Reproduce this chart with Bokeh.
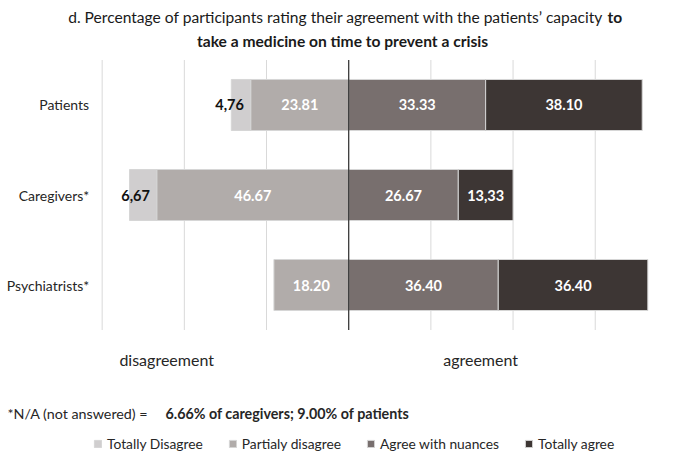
from bokeh.plotting import figure
from bokeh.models import Range1d, Legend, LegendItem, ColumnDataSource
from bokeh.core.properties import value
from bokeh.embed import file_html
from bokeh.resources import INLINE

# ---- data ----
categories = ["Patients", "Caregivers*", "Psychiatrists*"]
totally_disagree = [4.76, 6.67, 0.0]
partially_disagree = [23.81, 46.67, 18.20]
agree_nuances = [33.33, 26.67, 36.40]
totally_agree = [38.10, 13.33, 36.40]
td_labels = ["4,76", "6,67", ""]
pd_labels = ["23.81", "46.67", "18.20"]
an_labels = ["33.33", "26.67", "36.40"]
ta_labels = ["38.10", "13,33", "36.40"]
grid_ticks = [-60, -40, -20, 20, 40, 60, 80]
series_names = ["Totally Disagree", "Partialy disagree", "Agree with nuances", "Totally agree"]
series_colors = ["#d0cecf", "#b1acaa", "#786f6e", "#3d3634"]

FONT = value("Lato")
TXT = "#262626"

W, H = 668, 453
p = figure(width=W, height=H, x_range=Range1d(-84.74, 77.83), y_range=Range1d(3.872, -1.161),
           output_backend="svg", toolbar_location=None, min_border=0,
           x_axis_location=None, y_axis_location=None)
p.xgrid.visible = False
p.ygrid.visible = False
p.outline_line_color = None
p.background_fill_color = "white"
p.border_fill_color = "white"

n = len(categories)
ys = list(range(n))
top, bottom = -0.5, n - 0.5

# grid lines
p.segment(x0=grid_ticks, x1=grid_ticks, y0=[top] * len(grid_ticks), y1=[bottom] * len(grid_ticks),
          line_color="#d9d9d9", line_width=1)

BH = 0.567
edge = "#d6d6d6"

def bars(lefts, rights, color):
    rows = [(y, l, r) for y, l, r in zip(ys, lefts, rights) if r - l > 0]
    src = ColumnDataSource(dict(y=[r[0] for r in rows], left=[r[1] for r in rows], right=[r[2] for r in rows]))
    return p.hbar(y="y", left="left", right="right", height=BH, source=src,
                  fill_color=color, line_color=edge, line_width=1)

pd_left = [-v for v in partially_disagree]
td_left = [-(a + b) for a, b in zip(totally_disagree, partially_disagree)]
ta_right = [a + b for a, b in zip(agree_nuances, totally_agree)]

r_td = bars(td_left, pd_left, series_colors[0])
r_pd = bars(pd_left, [0] * n, series_colors[1])
r_an = bars([0] * n, agree_nuances, series_colors[2])
r_ta = bars(agree_nuances, ta_right, series_colors[3])

# centre line
p.segment(x0=[0], x1=[0], y0=[top], y1=[bottom], line_color="#3a3a3a", line_width=1.3)

# value labels
def centers(l, r):
    return [(a + b) / 2 for a, b in zip(l, r)]

VAL = dict(text_font=FONT, text_font_style="bold", text_font_size="14.5px", text_baseline="middle")
p.text(x=centers(pd_left, [0] * n), y=ys, text=pd_labels, text_color="white", text_align="center", **VAL)
p.text(x=centers([0] * n, agree_nuances), y=ys, text=an_labels, text_color="white", text_align="center", **VAL)
p.text(x=centers(agree_nuances, ta_right), y=ys, text=ta_labels, text_color="white", text_align="center", **VAL)
p.text(x=pd_left, y=ys, text=td_labels, text_color="#111111", text_align="right", x_offset=-7, **VAL)

# category labels
p.text(x=[grid_ticks[0]] * n, y=ys, text=categories, text_font=FONT, text_font_size="14px",
       text_color=TXT, text_align="right", text_baseline="middle", x_offset=-13)

# title
p.text(x=[62.0], y=[-0.983], text=["d. Percentage of participants rating their agreement with the patients\u2019 capacity"],
       text_font=FONT, text_font_size="15.6px", text_color="#1a1a1a", text_align="right", text_baseline="middle")
p.text(x=[62.0], y=[-0.983], text=["to"], text_font=FONT, text_font_style="bold", text_font_size="15.6px",
       text_color="#1a1a1a", text_align="left", text_baseline="middle", x_offset=4)
p.text(x=[-1.5], y=[-0.711], text=["take a medicine on time to prevent a crisis"], text_font=FONT,
       text_font_style="bold", text_font_size="15.6px", text_color="#1a1a1a", text_align="center",
       text_baseline="middle")

# side labels
p.text(x=[-44.3, 32.1], y=[2.824, 2.824], text=["disagreement", "agreement"], text_font=FONT,
       text_font_size="16px", text_color=TXT, text_align="center", text_baseline="middle")

# footnote
xs0 = p.x_range.start
p.text(x=[xs0], y=[3.428], text=["*N/A (not answered) ="], text_font=FONT, text_font_size="14.3px",
       text_color=TXT, text_align="left", text_baseline="middle", x_offset=7)
p.text(x=[xs0], y=[3.428], text=["6.66% of caregivers; 9.00% of patients"], text_font=FONT,
       text_font_style="bold", text_font_size="14.3px", text_color=TXT, text_align="left",
       text_baseline="middle", x_offset=165)

# legend
items = [LegendItem(label=nm, renderers=[r]) for nm, r in zip(series_names, [r_td, r_pd, r_an, r_ta])]
legend = Legend(items=items, orientation="horizontal", location=(93, 1), padding=0, margin=0,
                glyph_width=9, glyph_height=9, label_standoff=5, spacing=25, label_height=14,
                label_text_font="Lato", label_text_font_size="13.8px", label_text_color=TXT,
                border_line_color=None, background_fill_alpha=0)
p.add_layout(legend)

open("out.html", "w").write(file_html(p, INLINE))
